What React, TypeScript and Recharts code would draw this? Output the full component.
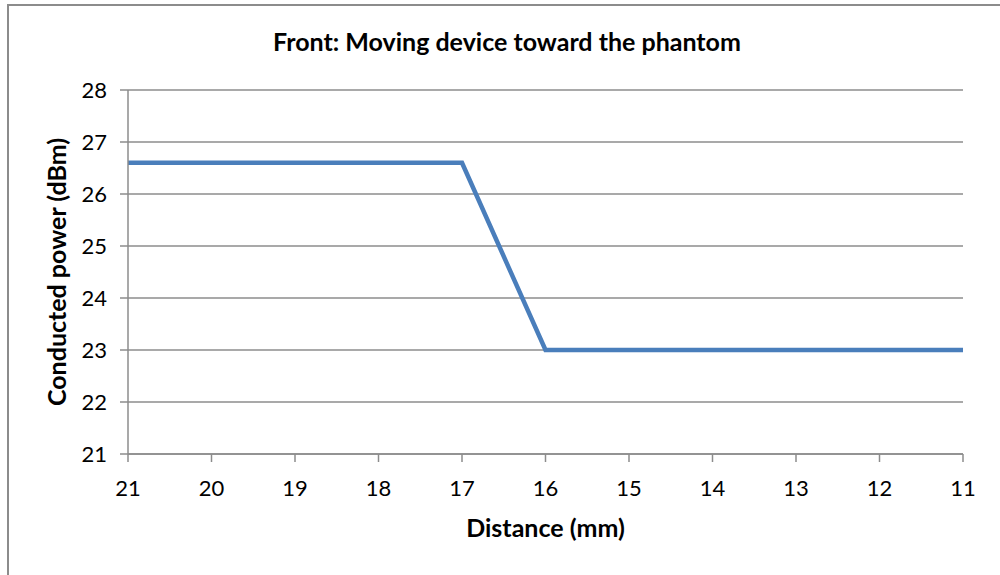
import React from 'react';
import { LineChart, Line, XAxis, YAxis, CartesianGrid } from 'recharts';

const distances = ['21', '20', '19', '18', '17', '16', '15', '14', '13', '12', '11'];
const power = [26.6, 26.6, 26.6, 26.6, 26.6, 23, 23, 23, 23, 23, 23];
const yTicks = [21, 22, 23, 24, 25, 26, 27, 28];
const title = 'Front: Moving device toward the phantom';
const xTitle = 'Distance (mm)';
const yTitle = 'Conducted power (dBm)';

const data = distances.map((d, i) => ({ distance: d, power: power[i] }));

const FONT = 'Lato, "Open Sans", sans-serif';
const GRAY = '#8c8c8c';

export default function App() {
  return (
    <div style={{ position: 'fixed', left: 0, top: 0, width: 1000, height: 575, overflow: 'hidden', background: '#fff' }}>
      <div style={{ position: 'absolute', left: 7, top: 4, width: 1100, height: 700, border: `2px solid ${GRAY}`, boxSizing: 'border-box' }} />
      <div style={{ position: 'absolute', left: 7, width: 1000, top: 26, textAlign: 'center', fontFamily: FONT, fontWeight: 'bold', fontSize: 25, color: '#000', lineHeight: '30px', whiteSpace: 'nowrap' }}>
        {title}
      </div>
      <div style={{ position: 'absolute', left: 0, top: 0 }}>
        <LineChart width={1000} height={575} data={data} margin={{ top: 90, right: 37, bottom: 0, left: 0 }}>
          <CartesianGrid vertical={false} stroke={GRAY} strokeWidth={1.5} />
          <XAxis
            dataKey="distance"
            height={121}
            tickSize={8}
            tickMargin={18}
            stroke={GRAY}
            strokeWidth={1.5}
            tick={{ fill: '#000', fontSize: 22, fontFamily: FONT }}
            label={{ value: xTitle, position: 'insideTop', offset: 65, style: { fill: '#000', fontSize: 25, fontWeight: 'bold', fontFamily: FONT } }}
          />
          <YAxis
            width={128}
            domain={[21, 28]}
            ticks={yTicks}
            interval={0}
            tickSize={8}
            tickMargin={13}
            stroke={GRAY}
            strokeWidth={1.5}
            tick={{ fill: '#000', fontSize: 22, fontFamily: FONT }}
            label={{ value: yTitle, angle: -90, position: 'center', dx: -7, style: { fill: '#000', fontSize: 25, fontWeight: 'bold', fontFamily: FONT } }}
          />
          <Line type="linear" dataKey="power" stroke="#4A7EBB" strokeWidth={4.5} dot={false} isAnimationActive={false} />
        </LineChart>
      </div>
    </div>
  );
}
